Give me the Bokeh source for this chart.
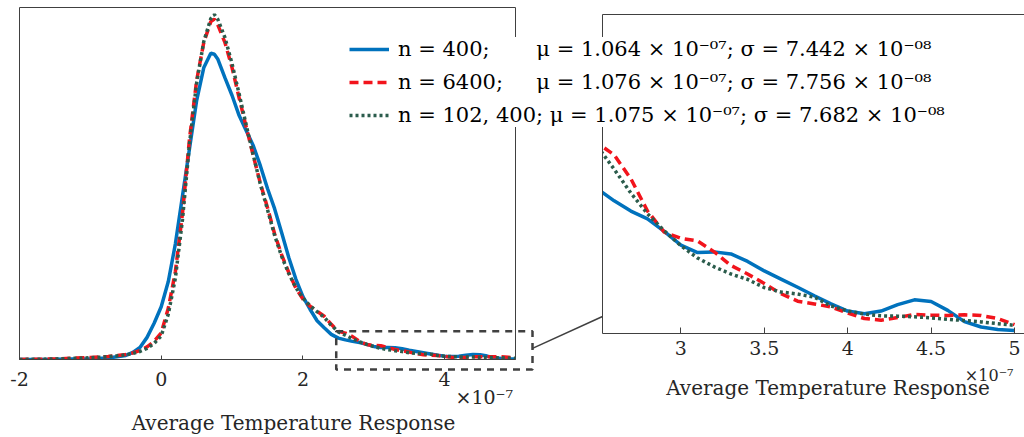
from bokeh.plotting import figure
from bokeh.layouts import row
from bokeh.models import (ColumnDataSource, Range1d, LinearAxis, FixedTicker, Legend,
                          LegendItem, Label)
from bokeh.core.properties import value
from bokeh.embed import file_html
from bokeh.resources import INLINE

# ---------------- data (x in units of 1e-7) ----------------
x_grid = [-2.0, -1.5, -1.0, -0.75, -0.5, -0.4, -0.3, -0.2, -0.1,
          0.0, 0.1, 0.2, 0.3, 0.4, 0.5, 0.6, 0.7, 0.75,
          0.8, 0.9, 1.0, 1.1, 1.2, 1.3, 1.4, 1.5, 1.6, 1.7, 1.8, 1.9, 2.0, 2.1, 2.2, 2.3, 2.4, 2.5,
          2.6, 2.7, 2.8, 2.9, 3.0, 3.1, 3.2, 3.3, 3.4, 3.5, 3.6, 3.7, 3.8, 3.9, 4.0,
          4.1, 4.2, 4.3, 4.4, 4.5, 4.6, 4.7, 4.8, 4.9, 5.0]

dens_n400 = [0.0, 0.005, 0.015, 0.03, 0.08, 0.14, 0.24, 0.44, 0.72,
             1.05, 1.55, 2.3, 3.25, 4.2, 5.15, 5.8, 6.09, 6.07,
             5.97, 5.6, 5.25, 4.85, 4.55, 4.25, 3.85, 3.4, 3.0, 2.52, 2.03, 1.6, 1.25, 1.0, 0.77, 0.63, 0.5, 0.425,
             0.39, 0.36, 0.337, 0.30, 0.26, 0.238, 0.24, 0.234, 0.212, 0.184, 0.16, 0.136, 0.111, 0.087, 0.066,
             0.058, 0.066, 0.085, 0.099, 0.094, 0.068, 0.035, 0.019, 0.012, 0.009]

dens_n6400 = [0.0, 0.01, 0.04, 0.06, 0.1, 0.13, 0.18, 0.25, 0.36,
              0.53, 1.02, 1.75, 2.9, 4.4, 5.55, 6.3, 6.72, 6.77,
              6.65, 6.3, 5.8, 5.2, 4.62, 4.05, 3.5, 3.02, 2.5, 2.08, 1.73, 1.42, 1.2, 1.06, 0.96, 0.86, 0.7, 0.56,
              0.525, 0.455, 0.36, 0.298, 0.28, 0.272, 0.24, 0.20, 0.175, 0.147, 0.117, 0.095, 0.087, 0.078, 0.06,
              0.044, 0.039, 0.047, 0.056, 0.054, 0.053, 0.055, 0.053, 0.044, 0.026]

dens_n102400 = [0.0, 0.01, 0.035, 0.055, 0.09, 0.12, 0.16, 0.22, 0.32,
                0.47, 0.9, 1.62, 2.78, 4.3, 5.5, 6.32, 6.78, 6.86,
                6.76, 6.4, 5.88, 5.28, 4.66, 4.06, 3.48, 2.98, 2.47, 2.05, 1.71, 1.43, 1.22, 1.07, 0.95, 0.84, 0.68, 0.55,
                0.483, 0.413, 0.352, 0.302, 0.258, 0.222, 0.196, 0.175, 0.159, 0.135, 0.122, 0.116, 0.107, 0.081, 0.066,
                0.057, 0.052, 0.051, 0.049, 0.046, 0.042, 0.038, 0.034, 0.029, 0.024]

n_labels = ["n = 400;", "n = 6400;", "n = 102, 400;"]
mu_values = ["1.064", "1.076", "1.075"]
sigma_values = ["7.442", "7.756", "7.682"]
label_gaps = [7, 5, 1]

main_ticks = [-2, 0, 2, 4]
main_tick_labels = ["-2", "0", "2", "4"]
inset_ticks = [3, 3.5, 4, 4.5, 5]
inset_tick_labels = ["3", "3.5", "4", "4.5", "5"]
x_label = "Average Temperature Response"
x_scale_note = "×10⁻⁷"

series_names = ["n400", "n6400", "n102400"]
series_colors = ["#0072BD", "#F2141C", "#2B5C4C"]
series_dash = ["solid", "9 5", "3 3"]

# zoom window drawn on the main plot (main-plot data coords) and connector end
zoom_box = dict(left=2.47, right=5.24, bottom=-0.2, top=0.56)
connector = dict(x0=5.24, y0=0.22, x1=6.228, y1=0.855)

AX = "#404040"
TXT = "#262626"
FONT = "DejaVu Serif"

src = ColumnDataSource(dict(x=x_grid, n400=dens_n400, n6400=dens_n6400, n102400=dens_n102400))


def add_lines(fig, **kw):
    rs = []
    for name, col, dash in zip(series_names, series_colors, series_dash):
        rs.append(fig.line("x", name, source=src, line_color=col, line_width=3.5, line_dash=dash, **kw))
    return rs


def bare(fig):
    fig.grid.visible = False
    fig.frame_align = False


# ---------------- main plot ----------------
p = figure(width=528, height=437, x_range=Range1d(-2, 5), y_range=Range1d(0, 7.0),
           output_backend="svg", toolbar_location=None,
           x_axis_location=None, y_axis_location=None,
           min_border_left=19, min_border_right=13, min_border_top=7, min_border_bottom=78)
bare(p)
p.outline_line_color = AX
p.outline_line_width = 1
add_lines(p)
p.add_layout(LinearAxis(ticker=FixedTicker(ticks=main_ticks),
                        major_label_overrides={t: l for t, l in zip(main_ticks, main_tick_labels)},
                        major_tick_in=4, major_tick_out=0, minor_tick_line_color=None,
                        axis_line_color=AX, major_tick_line_color=AX,
                        major_label_text_font=FONT, major_label_text_font_size="19px",
                        major_label_text_color=TXT, major_label_standoff=12), "below")

# ---------------- inset (zoom) plot ----------------
q = figure(width=694, height=437, x_range=Range1d(2.53, 5.06), y_range=Range1d(0, 0.938),
           output_backend="svg", toolbar_location=None,
           x_axis_location=None, y_axis_location=None,
           min_border_left=272, min_border_right=0, min_border_top=14, min_border_bottom=104,
           margin=(0, 0, 0, -198))
bare(q)
q.outline_line_color = None
q.background_fill_alpha = 0
q.border_fill_alpha = 0
add_lines(q)
q.add_layout(LinearAxis(ticker=FixedTicker(ticks=inset_ticks),
                        major_label_overrides={t: l for t, l in zip(inset_ticks, inset_tick_labels)},
                        major_tick_in=6, major_tick_out=0, minor_tick_line_color=None,
                        axis_line_color=AX, major_tick_line_color=AX,
                        major_label_text_font=FONT, major_label_text_font_size="19px",
                        major_label_text_color=TXT, major_label_standoff=7), "below")
q.add_layout(LinearAxis(ticker=FixedTicker(ticks=[]), major_tick_in=0, major_tick_out=0,
                        minor_tick_line_color=None, axis_line_color=AX), "left")
q.add_layout(LinearAxis(ticker=FixedTicker(ticks=[]), major_tick_in=0, major_tick_out=0,
                        minor_tick_line_color=None, axis_line_color=AX), "above")

# ---------------- transparent overlay: legend, zoom box, connector, axis texts ----------------
# default ranges = main-plot coordinates, "inset" ranges = inset coordinates, over the whole page
o = figure(width=1024, height=437, x_range=Range1d(-2.2681, 12.1835), y_range=Range1d(-1.5511, 7.1392),
           output_backend="svg", toolbar_location=None,
           x_axis_location=None, y_axis_location=None,
           min_border_left=0, min_border_right=0, min_border_top=0, min_border_bottom=0,
           margin=(0, 0, 0, -1024))
bare(o)
o.outline_line_color = None
o.background_fill_alpha = 0
o.border_fill_alpha = 0
o.extra_x_ranges = {"inset": Range1d(-1.0791, 5.0600)}
o.extra_y_ranges = {"inset": Range1d(-0.3059, 0.9794)}

o.quad(left=[zoom_box["left"]], right=[zoom_box["right"]], bottom=[zoom_box["bottom"]], top=[zoom_box["top"]],
       fill_color=None, line_color=AX, line_width=2.5, line_dash="7 6")
o.segment(x0=[connector["x0"]], y0=[connector["y0"]], x1=[connector["x1"]], y1=[connector["y1"]],
          line_color=AX, line_width=1.5)

o.add_layout(Label(x=4.968, y=-0.746, text=x_scale_note, text_align="right", text_baseline="middle",
                   text_font=FONT, text_font_size="19px", text_color=TXT))
o.add_layout(Label(x=1.867, y=-1.263, text=x_label, text_align="center",
                   text_baseline="middle", text_font=FONT, text_font_size="20px", text_color=TXT))
o.text(x=[4.994], y=[-0.124], text=[x_scale_note], text_align="right", text_baseline="middle",
       text_font=value(FONT), text_font_size="16px", text_color=TXT,
       x_range_name="inset", y_range_name="inset")
o.text(x=[3.882], y=[-0.160], text=[x_label], text_align="center", text_baseline="middle",
       text_font=value(FONT), text_font_size="20px", text_color=TXT,
       x_range_name="inset", y_range_name="inset")

proxies = add_lines(o, visible=False)
NB = "\u00a0"
items = []
for r, nl, mu, sg, g in zip(proxies, n_labels, mu_values, sigma_values, label_gaps):
    lab = f"{nl}{NB * g}μ = {mu} × 10⁻⁰⁷; σ = {sg} × 10⁻⁰⁸"
    items.append(LegendItem(label=lab, renderers=[r]))
leg = Legend(items=items, location=(349, 310), padding=15, spacing=9, margin=0,
             glyph_width=40, glyph_height=20, label_height=20, label_width=545, label_standoff=9,
             label_text_font=FONT, label_text_font_size="21px", label_text_color="black",
             border_line_color=None, background_fill_color="white", background_fill_alpha=1)
o.add_layout(leg)

layout = row(p, q, o)
open("out.html", "w").write(file_html(layout, INLINE))
